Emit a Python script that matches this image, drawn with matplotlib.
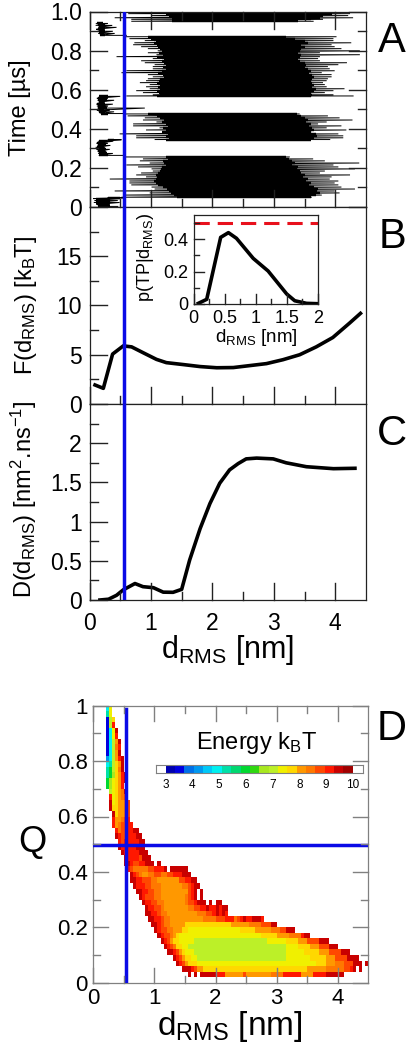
import re
import numpy as np
import matplotlib
matplotlib.use("Agg")
from matplotlib import pyplot as plt
from matplotlib.colors import ListedColormap, BoundaryNorm
from matplotlib.lines import Line2D

plt.rcParams['font.family'] = ['Liberation Sans', 'DejaVu Sans']
plt.rcParams['mathtext.fontset'] = 'custom'
plt.rcParams['mathtext.rm'] = 'Liberation Sans'
plt.rcParams['mathtext.default'] = 'regular'

# panel A, per time row: outer tips of the trace (l, r) and edge of the solid part (il, ir)
a1_t = [.256,.246,.236,.225,.215,.205,.195,.184,.174,.164,.154,.143,.133,.123,.113,.102,.092,.082,.072,.061,.050]
a1_l = [.57,.87,.82,.98,.60,.79,1.01,1.03,.84,.76,.92,.33,.65,.65,.68,1.01,1.06,.41,.98,.57,.52]
a1_r = [3.26,3.64,3.83,4.39,3.97,4.05,4.32,3.83,3.75,4.24,3.94,3.91,4.05,3.99,4.05,4.10,4.32,3.99,4.07,3.78,3.61]
a1_il = [1.25,1.27,1.2,1.22,1.25,1.18,1.17,1.15,1.12,1.08,1.1,1.08,1.05,1.08,1.12,1.2,1.26,1.3,1.33,1.38,1.42]
a1_ir = [3.2,3.25,3.3,3.35,3.3,3.4,3.38,3.42,3.45,3.5,3.48,3.55,3.52,3.6,3.58,3.65,3.72,3.7,3.75,3.68,3.6]

a2_t = [.476,.466,.456,.445,.435,.425,.415,.405,.394,.384,.374,.364,.354,.345]
a2_l = [.57,.62,.90,.87,1.09,.71,.71,1.14,.92,1.23,.49,.76,.76,1.06]
a2_r = [3.42,3.88,4.07,4.28,3.86,3.72,4.10,3.86,4.18,3.61,4.05,4.13,4.13,3.91]
a2_il = [.95,1.1,1.15,1.22,1.18,1.25,1.27,1.2,1.25,1.18,1.28,1.24,1.3,1.25]
a2_ir = [3.38,3.45,3.5,3.55,3.52,3.6,3.58,3.62,3.65,3.6,3.68,3.7,3.65,3.6]

a3_t = [.871,.861,.851,.840,.830,.820,.810,.799,.789,.779,.769,.759,.748,.738,.728,.718,.707,.697,.687,.677,.666,.656,.646,.636,.626,.615,.605,.595,.585,.574,.568]
a3_l = [.60,.65,.90,.73,.71,.84,.95,1.11,.95,1.09,.44,1.03,.84,.90,1.06,1.03,1.03,.60,.52,.95,1.03,.95,.92,.82,.98,.92,.98,.76,.87,1.03,.60]
a3_r = [4.02,3.97,3.97,4.26,3.94,3.99,4.10,4.40,3.75,4.40,3.75,3.72,3.75,4.19,4.05,3.88,3.91,3.99,3.78,3.94,3.94,3.88,3.86,3.80,3.83,3.86,4.15,3.97,3.83,3.97,4.29]
a3_il = [.95,1.0,1.08,1.05,1.1,1.12,1.15,1.18,1.13,1.2,1.1,1.22,1.18,1.22,1.25,1.2,1.24,1.18,1.12,1.2,1.22,1.15,1.13,1.1,1.14,1.12,1.15,1.1,1.13,1.15,1.1]
a3_ir = [3.2,3.35,3.5,3.55,3.45,3.5,3.45,3.42,3.4,3.45,3.42,3.4,3.42,3.5,3.52,3.5,3.55,3.6,3.58,3.62,3.65,3.62,3.6,3.62,3.65,3.62,3.68,3.65,3.6,3.62,3.6]

a4_t = [.999,.989,.979,.968,.960,.950]
a4_l = [.52,.63,1.01,.41,.68,.68]
a4_r = [4.13,4.24,4.21,4.29,3.80,3.64]
a4_il = [1.2,1.25,1.3,1.38,1.35,1.35]
a4_ir = [4.1,3.95,3.8,3.75,3.6,3.4]

f1_t = [.939,.929,.919,.909,.899,.888,.878]
f1_l = [.11,.10,.14,.11,.13,.14,.17]
f1_r = [.30,.37,.44,.25,.38,.41,.60]
f1_il = [.13,.14,.15,.14,.15,.15,.17]
f1_ir = [.22,.26,.25,.22,.26,.24,.25]

f2_t = [.566,.556,.546,.536,.526,.516,.506,.495,.487,.478]
f2_l = [.20,.12,.13,.15,.11,.12,.13,.12,.15,.18]
f2_r = [.50,.30,.40,.25,.38,.30,.90,.33,.40,.55]
f2_il = [.15,.14,.14,.15,.13,.14,.14,.14,.15,.18]
f2_ir = [.3,.25,.28,.24,.26,.26,.28,.24,.26,.3]

f3_t = [.344,.336,.326,.315,.305,.295,.285,.274,.264]
f3_l = [.30,.14,.11,.13,.10,.11,.13,.14,.15]
f3_r = [.52,.38,.30,.34,.25,.33,.27,.38,.57]
f3_il = [.3,.15,.13,.14,.12,.13,.14,.15,.16]
f3_ir = [.4,.28,.26,.27,.24,.27,.25,.28,.3]

f4_t = [.047,.043,.033,.023,.013,.003]
f4_l = [.30,.06,.08,.07,.11,.14]
f4_r = [.55,.49,.46,.49,.33,.46]
f4_il = [.3,.1,.1,.1,.12,.14]
f4_ir = [.5,.34,.33,.34,.3,.34]

# panel B
f_d = [.09,.225,.376,.55,.685,.875,1.09,1.25,1.53,1.8,2.07,2.34,2.61,2.88,3.15,3.42,3.69,3.96,4.23,4.41]
f_val = [1.93,1.59,5.07,5.9,5.8,5.2,4.53,4.2,4.0,3.8,3.68,3.7,3.9,4.1,4.5,5.0,5.8,6.75,8.2,9.2]
p_d = [.075,.21,.435,.56,.69,.96,1.2,1.5,1.63,1.82,1.98]
p_val = [.004,.029,.412,.441,.406,.282,.204,.062,.02,.004,.002]

# panel C
d_d = [.17,.31,.44,.55,.74,.87,1.04,1.2,1.36,1.5,1.63,1.8,1.96,2.12,2.28,2.42,2.55,2.72,2.99,3.2,3.53,3.97,4.32]
d_val = [0,.01,.06,.13,.21,.17,.157,.10,.098,.136,.51,.91,1.23,1.49,1.66,1.74,1.80,1.81,1.80,1.75,1.70,1.675,1.68]

# panel D, energy map rows from Q=.99 down to Q=.03, (first column, runs of code+count)
code_energy = {'B':3.2,'b':3.5,'a':4.2,'c':4.9,'t':5.3,'e':6.0,'G':6.7,'g':7.0,'Y':7.4,'y':7.7,
               'O':8.1,'o':8.4,'R':8.8,'r':9.1,'d':9.5,'D':9.8}
heat_rows = [
    (4,"c1Y1"),(4,"t1Y1"),(4,"b1g1y1"),(4,"b1g1r1"),(4,"b1c1Y1d1"),(4,"b1c1Y1r1"),(4,"b1c1g1O1d1"),
    (4,"b1c1g1o1r1"),(4,"b1c1g1O1d1"),(4,"a1c1g1O1r1d1"),(4,"c1t1g1y1O1d1"),(4,"t1e1g1y1o1d1"),
    (4,"t1e1G1y1O1r1d1"),(4,"e1G1Y1y1O1r1d1"),(4,"e1G1Y1y1O1r1"),(5,"g1Y1y1O1o1d1"),(5,"r1Y1y1O1o1R1"),
    (5,"d1Y1y1O2o1R1"),(5,"d1y2O2o1R1"),(6,"d1y1O2o1R1"),(6,"r1O2o1R1r1"),(6,"r1O1o1R2r2"),(7,"r1o1R2r2d2"),
    (7,"d1r1R2r3d2"),(8,"r1R1r5d2"),(8,"d1r5d3"),(9,"d1r5d3"),(10,"d1r4R1d3"),(10,"d2r1R2r2d3.1d1"),
    (11,"r1R1o5R2r3d1.1d6"),(12,"d1r1R1o1O2o2R2o2R2r3d3"),(12,"d2r2R3o2O7R2r2d2"),(13,"d1r3R2o3O7o2R1r1d2"),
    (14,"d2r2R2o2O9R1r1d1.1d1"),(15,"d1r1R3o2O8o1R1r1d1.1d1"),(16,"d1r2R2o2O7o1R2r1d3.1d1.1d2"),
    (17,"d1r2R2o1O8o2R2r2d1r2d1r1d2"),(17,"d2r2R1o2O10o3R2r1d1r1d1r1"),(18,"d2r2R1o2O11o4R3r3o1R1r1d1r2d3r1"),
    (19,"d2r1R1o2O5y15O6o4R3d2"),(20,"d1r1R2o2O3y2Y17y5O5o3R2d3"),(21,"d1r1R2o1O1y1Y27y5O4o4r1d2"),
    (22,"d1r1R1O1y2Y5g24Y6y4O3R4d3"),(23,"d1r1R1o1y2Y2g32Y4y4O3R3d3"),(24,"d2r1R1O1y1Y3g30Y6y5O3R4d3"),
    (26,"d1r1R1O1y2Y2g29Y8y5O3R4d4"),(27,"d1r1R1O1y3Y39y3O3o3R3d3.1d1"),(29,"d3r1R1O2y34O6o6R2r1d1.1d1"),
    (31,"d1.1d1.1d5r3O6R1O8o4r6O4r4d6"),
]
cbar_colors = ['#0000b0','#0000e0','#0070e8','#0098f0','#00c8f8','#00f0f0','#00e0a8','#00d870','#00d830','#30d810',
               '#a8e820','#bcf028','#f0f000','#ffd800','#ff9800','#ff7800','#ff4800','#ff1800','#c80000','#a00000']
cbar_ticks = [3,4,5,6,7,8,9,10]

blue = '#0a0ae6'
W, H = 408, 1050


def px_axes(l, t, r, b):
    return fig.add_axes([l/W, 1-b/H, (r-l)/W, (b-t)/H])


def px_text(x, y, s, **kw):
    fig.text(x/W, 1-y/H, s, **kw)


def style(ax, top_right=False, color='#222222', maj=17, mnr=8, size=16.5, pad=5.5):
    ax.tick_params(which='both', direction='in', top=False, right=False, length=0)
    ax.tick_params(which='major', labelsize=size, pad=pad)
    for s in ax.spines.values():
        s.set_linewidth(0.9)
        s.set_color(color)
    # tick marks on the figure itself, on top of everything, lengths in pixels
    box = ax.get_position()
    x0, x1 = ax.get_xlim()
    y0, y1 = ax.get_ylim()
    for minor, n in ((False, maj), (True, mnr)):
        for v in ax.get_xticks(minor=minor):
            x = box.x0 + (v-x0)/(x1-x0)*box.width
            fig.add_artist(Line2D([x, x], [box.y0, box.y0+n/H], color=color, lw=1.0, zorder=20))
            if top_right:
                fig.add_artist(Line2D([x, x], [box.y1-n/H, box.y1], color=color, lw=1.0, zorder=20))
        for v in ax.get_yticks(minor=minor):
            y = box.y0 + (v-y0)/(y1-y0)*box.height
            fig.add_artist(Line2D([box.x0, box.x0+n/W], [y, y], color=color, lw=1.0, zorder=20))
            if top_right:
                fig.add_artist(Line2D([box.x1-n/W, box.x1], [y, y], color=color, lw=1.0, zorder=20))


def trace(ax, t, l, r, il, ir):
    ax.hlines(t, il, ir, color='k', lw=1.75)
    ax.plot(np.column_stack([l, r]).ravel(), np.repeat(t, 2), color='k', lw=0.7, solid_joinstyle='miter')


fig = plt.figure(figsize=(W/100, H/100), dpi=100)
x_major = [0, 1, 2, 3, 4]
x_minor = [.5, 1.5, 2.5, 3.5]

# A
ax_a = px_axes(89.5, 11.5, 366, 207)
for block in [(a1_t, a1_l, a1_r, a1_il, a1_ir), (a2_t, a2_l, a2_r, a2_il, a2_ir), (a3_t, a3_l, a3_r, a3_il, a3_ir),
              (a4_t, a4_l, a4_r, a4_il, a4_ir), (f1_t, f1_l, f1_r, f1_il, f1_ir), (f2_t, f2_l, f2_r, f2_il, f2_ir),
              (f3_t, f3_l, f3_r, f3_il, f3_ir), (f4_t, f4_l, f4_r, f4_il, f4_ir)]:
    trace(ax_a, *block)
ax_a.set_xlim(0, 4.5)
ax_a.set_ylim(0, 1)
ax_a.set_xticks(x_major, labels=[])
ax_a.set_xticks(x_minor, minor=True)
ax_a.set_yticks([0, .2, .4, .6, .8, 1], labels=['0', '0.2', '0.4', '0.6', '0.8', '1.0'])
ax_a.set_yticks([.1, .3, .5, .7, .9], minor=True)
style(ax_a, True)

# B
ax_b = px_axes(89.5, 207, 366, 404)
ax_b.plot(f_d, f_val, color='k', lw=2.6)
ax_b.set_xlim(0, 4.5)
ax_b.set_ylim(0, 20)
ax_b.set_xticks(x_major, labels=[])
ax_b.set_xticks(x_minor, minor=True)
ax_b.set_yticks([0, 5, 10, 15], labels=['0', '5', '10', '15'])
ax_b.set_yticks([2.5, 7.5, 12.5, 17.5], minor=True)
style(ax_b)

# C
ax_c = px_axes(89.5, 404, 366, 600)
ax_c.plot(d_d, d_val, color='k', lw=2.6)
ax_c.set_xlim(0, 4.5)
ax_c.set_ylim(0, 2.5)
ax_c.set_xticks(x_major, labels=['0', '1', '2', '3', '4'])
ax_c.set_xticks(x_minor, minor=True)
ax_c.set_yticks([0, .5, 1, 1.5, 2], labels=['0', '0.5', '1', '1.5', '2'])
ax_c.set_yticks([.25, .75, 1.25, 1.75, 2.25], minor=True)
style(ax_c)
ax_c.tick_params(axis='x', which='major', pad=8.5)

for ax in (ax_a, ax_b, ax_c):
    ax.axvline(.556, color=blue, lw=2.5, zorder=7)

# B inset
ax_i = px_axes(193.7, 214.7, 317.7, 304)
ax_i.plot(p_d, p_val, color='k', lw=2.6)
ax_i.axhline(.503, color='#e8101c', lw=2.2, dashes=(5, 2.6))
ax_i.set_xlim(0, 2)
ax_i.set_ylim(0, .552)
ax_i.set_xticks([0, .5, 1, 1.5, 2], labels=['0', '0.5', '1', '1.5', '2'])
ax_i.set_xticks([.25, .75, 1.25, 1.75], minor=True)
ax_i.set_yticks([0, .2, .4], labels=['0', '0.2', '0.4'])
ax_i.set_yticks([.1, .3, .5], minor=True)
style(ax_i, maj=10, mnr=5, size=13, pad=4)

# D
heat = np.full((len(heat_rows), 90), np.nan)
for i, (start, runs) in enumerate(heat_rows):
    col = start
    for code, n in re.findall(r'([A-Za-z.])(\d+)', runs):
        if code != '.':
            heat[len(heat_rows)-1-i, col:col+int(n)] = code_energy[code]
        col += int(n)

cmap = ListedColormap(cbar_colors)
cbar_edges = np.linspace(3, 10, 21)
norm = BoundaryNorm(cbar_edges, 20)
x_edges = np.arange(91) * .05
q_edges = .02 + np.arange(len(heat_rows)+1) * .02

gray = '#808080'
ax_d = px_axes(93.3, 705.7, 368.3, 982.7)
ax_d.pcolormesh(x_edges, q_edges, np.ma.masked_invalid(heat), cmap=cmap, norm=norm)
ax_d.plot([.54, .54], [0, .988], color=blue, lw=2.5, zorder=7)
ax_d.plot([0, 4.47], [.496, .496], color=blue, lw=2.5, zorder=7)
ax_d.set_xlim(0, 4.5)
ax_d.set_ylim(0, 1)
ax_d.set_xticks(x_major, labels=['0', '1', '2', '3', '4'])
ax_d.set_xticks(x_minor, minor=True)
ax_d.set_yticks([0, .2, .4, .6, .8, 1], labels=['0', '0.2', '0.4', '0.6', '0.8', '1'])
ax_d.set_yticks([.1, .3, .5, .7, .9], minor=True)
style(ax_d, True, color=gray, maj=15, mnr=7, size=16, pad=4)

# colour key, white end boxes are the axes showing past the coloured range
cax = px_axes(156, 765.3, 362.7, 773.3)
cax.pcolormesh(cbar_edges, [0, 1], [(cbar_edges[:-1] + cbar_edges[1:]) / 2], cmap=cmap, norm=norm)
cax.set_xlim(2.637, 10.374)
cax.set_ylim(0, 1)
cax.set_yticks([])
cax.set_xticks(cbar_ticks, labels=[str(v) for v in cbar_ticks])
cax.tick_params(length=0, labelsize=8.5, pad=4)
for s in cax.spines.values():
    s.set_edgecolor(gray)
    s.set_linewidth(0.8)

# labels
px_text(20, 108, 'Time [µs]', rotation=90, fontsize=17, ha='center', va='center')
px_text(26, 305, 'F(d$_{RMS}$) [k$_{B}$T]', rotation=90, fontsize=17, ha='center', va='center')
px_text(24, 499, 'D(d$_{RMS}$) [nm$^{2}$.ns$^{-1}$]', rotation=90, fontsize=17, ha='center', va='center')
px_text(228, 658, 'd$_{RMS}$ [nm]', fontsize=22, ha='center', va='baseline')
px_text(230, 1035, 'd$_{RMS}$ [nm]', fontsize=24, ha='center', va='baseline')
px_text(32, 852, 'Q', fontsize=26, ha='center', va='baseline')
px_text(146, 257, 'p(TP|d$_{RMS}$)', rotation=90, fontsize=13, ha='center', va='center')
px_text(256, 342, 'd$_{RMS}$ [nm]', fontsize=13.5, ha='center', va='baseline')
px_text(257, 749, 'Energy k$_{B}$T', fontsize=17, ha='center', va='baseline')
for letter, y in zip('ABCD', [52, 248, 445, 740]):
    px_text(392, y, letter, fontsize=30, ha='center', va='baseline')

fig.savefig('out.png', dpi=100)
